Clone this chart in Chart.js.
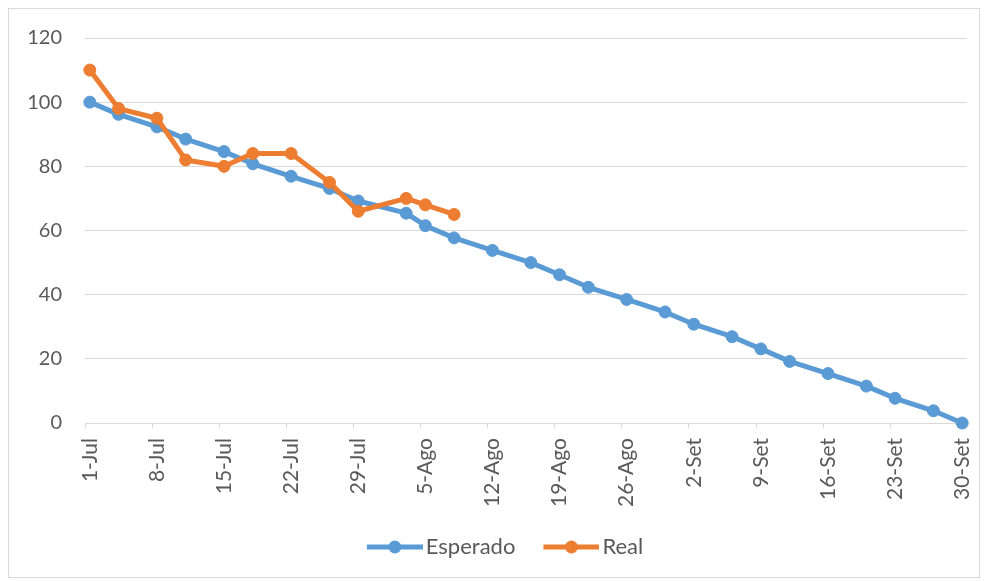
<!DOCTYPE html>
<html>
<head>
<meta charset="utf-8">
<script src="https://cdn.jsdelivr.net/npm/chart.js@4.4.0/dist/chart.umd.min.js"></script>
<style>
  html, body { margin: 0; padding: 0; background: #fff; }
  #frame { position: absolute; left: 8px; top: 8px; width: 970px; height: 568px; border: 1px solid #d9d9d9; }
  canvas { display: block; }
</style>
</head>
<body>
<div id="frame"><canvas id="burndown" width="970" height="568"></canvas></div>
<script>
// x values are days counted from 1-Jul
const esperadoDays = [0, 3, 7, 10, 14, 17, 21, 25, 28, 33, 35, 38, 42, 46, 49, 52, 56, 60, 63, 67, 70, 73, 77, 81, 84, 88, 91];
const esperadoValues = [100, 96.2, 92.3, 88.5, 84.6, 80.8, 76.9, 73.1, 69.2, 65.4, 61.5, 57.7, 53.8, 50, 46.2, 42.3, 38.5, 34.6, 30.8, 26.9, 23.1, 19.2, 15.4, 11.5, 7.7, 3.8, 0];
const realDays = [0, 3, 7, 10, 14, 17, 21, 25, 28, 33, 35, 38];
const realValues = [110, 98, 95, 82, 80, 84, 84, 75, 66, 70, 68, 65];
const tickDays = [0, 7, 14, 21, 28, 35, 42, 49, 56, 63, 70, 77, 84, 91];
const tickLabels = ["1-Jul", "8-Jul", "15-Jul", "22-Jul", "29-Jul", "5-Ago", "12-Ago", "19-Ago", "26-Ago", "2-Set", "9-Set", "16-Set", "23-Set", "30-Set"];

const BLUE = "#5B9BD5";
const ORANGE = "#ED7D31";
const GRID = "#d9d9d9";
const TEXT = "#595959";

Chart.defaults.font.family = "Lato";
Chart.defaults.font.size = 20;
Chart.defaults.color = TEXT;

// legend symbol: line with a dot, like Excel (left part left transparent on purpose)
function legendSymbol(color) {
  const c = document.createElement("canvas");
  c.width = 82; c.height = 14;
  const g = c.getContext("2d");
  g.strokeStyle = color;
  g.lineWidth = 5;
  g.beginPath(); g.moveTo(26, 7); g.lineTo(82, 7); g.stroke();
  g.fillStyle = color;
  g.beginPath(); g.arc(54, 7, 6.5, 0, Math.PI * 2); g.fill();
  return c;
}
const symbols = [legendSymbol(BLUE), legendSymbol(ORANGE)];

function toPoints(days, values) {
  return days.map((d, i) => ({ x: d, y: values[i] }));
}

function lineSet(label, data, color, order) {
  return {
    label: label,
    data: data,
    order: order,
    borderColor: color,
    backgroundColor: color,
    borderWidth: 5,
    borderJoinStyle: "round",
    borderCapStyle: "round",
    pointRadius: 6,
    pointBorderWidth: 1,
    pointBackgroundColor: color,
    pointBorderColor: color,
    tension: 0,
    clip: false
  };
}

// keep the layout driven by layout.padding only
function noScalePadding(scale) {
  scale.paddingLeft = 0;
  scale.paddingRight = 0;
  scale.paddingTop = 0;
  scale.paddingBottom = 0;
}

new Chart(document.getElementById("burndown"), {
  type: "line",
  data: {
    datasets: [
      lineSet("Esperado", toPoints(esperadoDays, esperadoValues), BLUE, 1),
      lineSet("Real", toPoints(realDays, realValues), ORANGE, 0)
    ]
  },
  options: {
    responsive: false,
    animation: false,
    devicePixelRatio: 1,
    layout: { padding: { left: 16, right: 12, top: 29, bottom: 9 } },
    scales: {
      x: {
        type: "linear",
        min: -0.5,
        max: 91.5,
        afterBuildTicks: (scale) => { scale.ticks = tickDays.map(d => ({ value: d - 0.5 })); },
        afterFit: (scale) => { scale.height = 103; noScalePadding(scale); },
        ticks: {
          autoSkip: false,
          minRotation: 90,
          maxRotation: 90,
          padding: 10,
          labelOffset: 4.8,
          font: { size: 21 },
          callback: (value, index) => tickLabels[index]
        },
        grid: { drawOnChartArea: false, drawTicks: true, tickLength: 5, color: GRID },
        border: { display: true, color: GRID, width: 1 }
      },
      y: {
        min: 0,
        max: 120,
        afterFit: (scale) => { scale.width = 60; noScalePadding(scale); },
        ticks: { stepSize: 20, padding: 23 },
        grid: { color: GRID, drawTicks: false },
        border: { display: false }
      }
    },
    plugins: {
      tooltip: { enabled: false },
      legend: {
        position: "bottom",
        labels: {
          usePointStyle: true,
          pointStyleWidth: 66,
          padding: 10,
          font: { size: 22 },
          sort: (a, b) => a.datasetIndex - b.datasetIndex,
          generateLabels: (chart) => {
            const items = Chart.defaults.plugins.legend.labels.generateLabels(chart);
            items.forEach(it => { it.pointStyle = symbols[it.datasetIndex]; it.rotation = 0; });
            return items;
          }
        }
      }
    }
  }
});
</script>
</body>
</html>
